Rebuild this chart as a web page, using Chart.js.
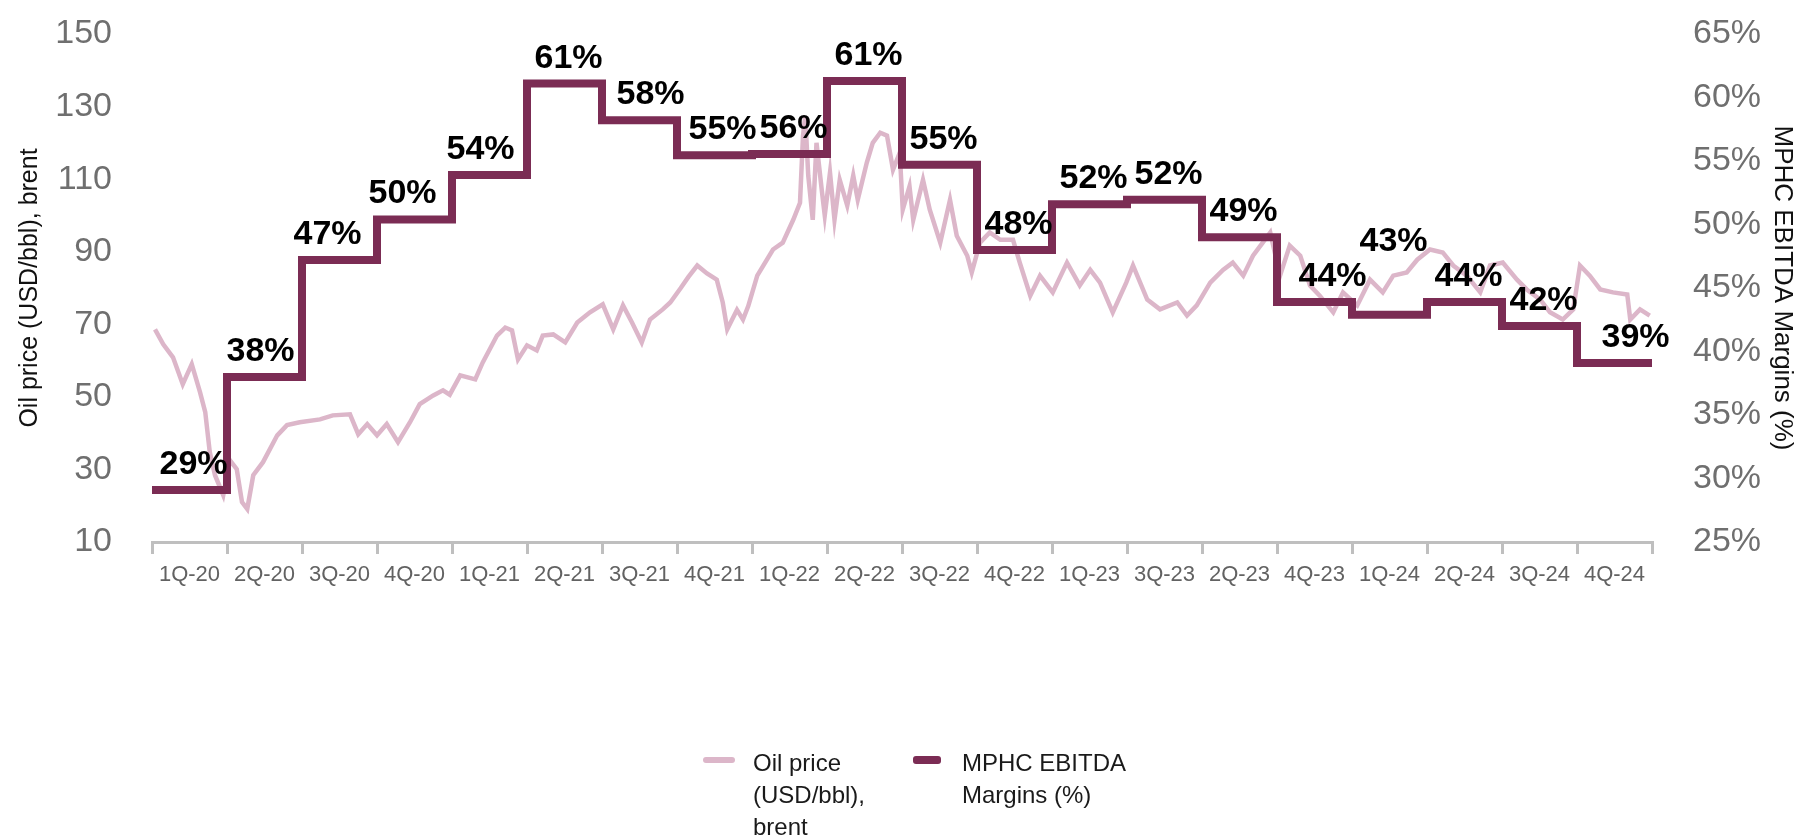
<!DOCTYPE html>
<html>
<head>
<meta charset="utf-8">
<script src="https://cdn.jsdelivr.net/npm/chart.js"></script>
<style>
  body { margin: 0; background: #fff; }
  #wrap { position: relative; width: 1800px; height: 840px; }
  .legend { position: absolute; font-family: "Liberation Sans", Arial, sans-serif; font-size: 24px; line-height: 32px; color: #1a1a1a; }
  .swatch { position: absolute; border-radius: 3px; }
</style>
</head>
<body>
<div id="wrap">
  <canvas id="myChart" width="1800" height="840"></canvas>
  <div class="swatch" style="left:703px;top:757px;width:32px;height:6px;background:#dcb6c9"></div>
  <div class="legend" style="left:753px;top:747px">Oil price<br>(USD/bbl),<br>brent</div>
  <div class="swatch" style="left:913px;top:756px;width:28px;height:8px;background:#7b2c54"></div>
  <div class="legend" style="left:962px;top:747px">MPHC EBITDA<br>Margins (%)</div>
</div>

<script>
  // quarter labels as they appear on the original slide
  const quarters = ["1Q-20", "2Q-20", "3Q-20", "4Q-20", "1Q-21", "2Q-21", "3Q-21", "4Q-21",
    "1Q-22", "2Q-22", "3Q-22", "4Q-22", "1Q-23", "3Q-23", "2Q-23", "4Q-23",
    "1Q-24", "2Q-24", "3Q-24", "4Q-24"];

  // MPHC EBITDA margin per quarter (%)
  const margins = [29.1, 38.0, 47.2, 50.4, 53.9, 61.1, 58.2, 55.45, 55.55, 61.3,
    54.7, 48.0, 51.6, 51.95, 49.0, 43.9, 42.9, 43.9, 42.0, 39.1];

  // brent price, time in quarters since start of 1Q-20
  const oilTime = [0.04, 0.15, 0.28, 0.41, 0.53, 0.64, 0.71, 0.77, 0.84, 0.95,
    1.04, 1.13, 1.20, 1.27, 1.35, 1.48, 1.67, 1.80, 1.97,
    2.24, 2.41, 2.64, 2.75, 2.87, 3.00, 3.13, 3.28, 3.44, 3.57, 3.75, 3.88, 3.97,
    4.11, 4.31, 4.41, 4.60, 4.71, 4.80, 4.88, 5.00, 5.13, 5.21, 5.35, 5.51, 5.67, 5.84,
    6.01, 6.15, 6.28, 6.40, 6.53, 6.64, 6.81, 6.91, 7.05, 7.15, 7.27, 7.40, 7.53, 7.61,
    7.67, 7.80, 7.88, 7.95, 8.07, 8.28, 8.41, 8.55, 8.64, 8.68, 8.71, 8.75, 8.81, 8.86,
    8.93, 8.97, 9.04, 9.10, 9.17, 9.27, 9.35, 9.41, 9.53, 9.61, 9.71, 9.80, 9.88, 9.97,
    10.01, 10.10, 10.15, 10.28, 10.37, 10.51, 10.64, 10.73, 10.87, 10.93,
    11.04, 11.17, 11.31, 11.48, 11.57, 11.71, 11.84, 12.01, 12.20, 12.37, 12.51, 12.64,
    12.81, 12.99, 13.08, 13.27, 13.44, 13.67, 13.80, 13.93, 14.11, 14.28, 14.41, 14.55,
    14.68, 14.81, 14.91, 15.04, 15.17, 15.31, 15.44, 15.57, 15.75, 15.88, 16.07, 16.24,
    16.41, 16.55, 16.73, 16.87, 17.04, 17.21, 17.35, 17.53, 17.71, 17.84, 18.01, 18.20,
    18.33, 18.51, 18.64, 18.81, 18.95, 19.04, 19.17, 19.31, 19.48, 19.67, 19.71, 19.84, 19.97];

  const oilPrice = [68.6, 64.5, 60.9, 53.5, 59.0, 51.3, 45.8, 34.8, 28.4, 22.9,
    32.5, 30.1, 21.0, 19.1, 28.4, 32.0, 39.4, 42.2, 43.0,
    43.8, 44.9, 45.2, 39.7, 42.5, 39.4, 42.5, 37.5, 43.0, 48.0, 50.4, 51.8, 50.6,
    55.9, 54.8, 59.5, 66.9, 69.1, 68.3, 60.3, 64.2, 62.8, 66.9, 67.2, 65.0, 70.5, 73.3,
    75.5, 68.6, 75.2, 70.5, 65.0, 71.3, 74.1, 76.0, 80.0, 83.0, 86.2, 84.0, 82.3, 76.0,
    68.6, 74.0, 71.3, 75.0, 83.4, 90.6, 92.5, 98.8, 103.5, 122.0, 127.4, 111.0, 98.8, 120.0,
    107.0, 100.0, 111.8, 98.8, 109.8, 102.7, 111.0, 104.3, 114.5, 120.0, 122.8, 122.0, 112.6, 117.3,
    101.6, 108.0, 98.8, 109.8, 101.6, 92.5, 104.3, 94.4, 88.9, 84.3,
    92.5, 95.3, 93.3, 93.3, 87.0, 77.9, 83.4, 78.8, 87.0, 80.7, 85.0, 81.5,
    73.3, 81.5, 86.2, 76.8, 74.1, 76.0, 72.4, 75.2, 81.5, 85.0, 87.0, 83.4,
    88.9, 92.5, 95.3, 83.4, 91.7, 88.9, 80.7, 77.9, 73.3, 78.8, 75.2, 82.3,
    78.8, 83.4, 84.3, 87.8, 90.6, 89.8, 86.2, 83.4, 78.8, 86.2, 87.0, 82.3,
    79.6, 76.8, 73.3, 71.3, 74.1, 86.2, 83.4, 79.6, 78.8, 78.2, 71.3, 74.1, 72.4];

  const FONT = '"Liberation Sans", Arial, sans-serif';
  Chart.defaults.font.family = FONT;

  const marginPoints = margins.map(function (v, i) { return { x: i, y: v }; });
  marginPoints.push({ x: margins.length, y: margins[margins.length - 1] });
  const oilPoints = oilTime.map(function (t, i) { return { x: t, y: oilPrice[i] }; });

  // small hand nudges so the labels sit where the slide has them
  const labelNudge = { 1: [-8, 0], 2: [-16, 0], 3: [-16, 0], 4: [-13, 0], 6: [7, 0], 7: [4, 0],
    15: [14, 0], 16: [0, -48], 19: [17, 0] };

  const marginLabels = {
    id: 'marginLabels',
    afterDatasetsDraw(chart) {
      const ctx = chart.ctx;
      const xs = chart.scales.xq, ys = chart.scales.y1;
      ctx.save();
      ctx.font = 'bold 34px ' + FONT;
      ctx.fillStyle = '#000';
      ctx.textAlign = 'center';
      ctx.textBaseline = 'alphabetic';
      margins.forEach(function (v, i) {
        const n = labelNudge[i] || [0, 0];
        const x = xs.getPixelForValue(i + 0.5) + 4 + n[0];
        const y = ys.getPixelForValue(v) - 16 + n[1];
        ctx.fillText(Math.round(v) + '%', x, y);
      });
      ctx.restore();
    }
  };

  function fixVertical(w) {
    return function (s) {
      s.width = w;
      s.paddingTop = 0;
      s.paddingBottom = 0;
    };
  }

  const ctx = document.getElementById('myChart');
  new Chart(ctx, {
    type: 'line',
    data: {
      labels: quarters,
      datasets: [
        {
          label: 'MPHC EBITDA Margins (%)',
          data: marginPoints,
          xAxisID: 'xq',
          yAxisID: 'y1',
          borderColor: '#7b2c54',
          borderWidth: 8,
          stepped: true,
          pointRadius: 0,
          fill: false,
          order: 0
        },
        {
          label: 'Oil price (USD/bbl), brent',
          data: oilPoints,
          xAxisID: 'xq',
          yAxisID: 'y',
          borderColor: '#dcb6c9',
          borderWidth: 4.5,
          pointRadius: 0,
          tension: 0,
          fill: false,
          order: 1
        }
      ]
    },
    options: {
      responsive: false,
      animation: false,
      layout: { padding: { left: 15, right: 2, top: 34, bottom: 252 } },
      plugins: {
        legend: { display: false },
        tooltip: { enabled: false }
      },
      scales: {
        xq: {
          type: 'linear',
          display: false,
          min: 0,
          max: 20
        },
        x: {
          type: 'category',
          labels: quarters,
          position: 'bottom',
          offset: true,
          grid: {
            offset: true,
            drawOnChartArea: false,
            drawTicks: true,
            tickLength: 12,
            color: '#bfbfbf',
            lineWidth: 3
          },
          border: { display: true, color: '#bfbfbf', width: 3 },
          ticks: {
            autoSkip: false,
            maxRotation: 0,
            padding: 8,
            color: '#626262',
            font: { size: 22 }
          },
          afterFit: function (s) {
            s.height = 46;
            s.paddingLeft = 0;
            s.paddingRight = 0;
          }
        },
        y: {
          position: 'left',
          min: 10,
          max: 150,
          grid: { display: false },
          border: { display: false },
          ticks: {
            stepSize: 20,
            padding: 32,
            color: '#6f6f6f',
            font: { size: 34 }
          },
          title: {
            display: true,
            text: 'Oil price (USD/bbl), brent',
            color: '#111',
            font: { size: 25 },
            padding: 0
          },
          afterFit: fixVertical(137)
        },
        y1: {
          position: 'right',
          min: 25,
          max: 65,
          grid: { display: false },
          border: { display: false },
          ticks: {
            stepSize: 5,
            padding: 33,
            color: '#6f6f6f',
            font: { size: 34 },
            callback: function (v) { return v + '%'; }
          },
          title: {
            display: true,
            text: 'MPHC EBITDA Margins (%)',
            color: '#111',
            font: { size: 26 },
            padding: 0
          },
          afterFit: fixVertical(146)
        }
      }
    },
    plugins: [marginLabels]
  });
</script>
</body>
</html>
